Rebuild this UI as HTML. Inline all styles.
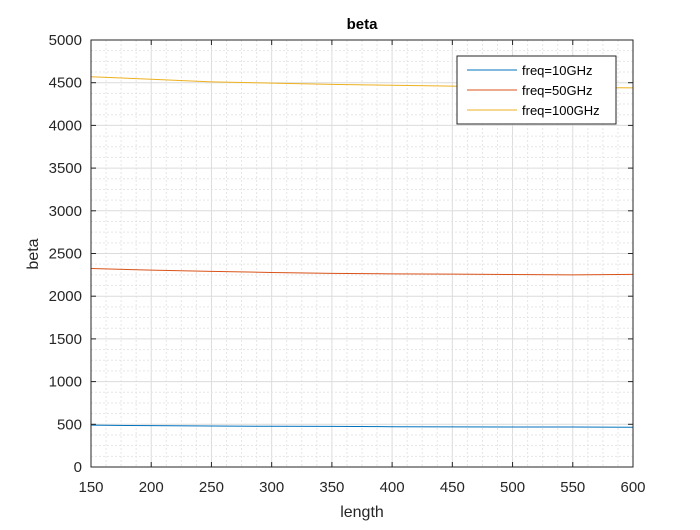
<!DOCTYPE html>
<html><head><meta charset="utf-8"><style>
body{margin:0;background:#fff;}
svg text{font-family:"Liberation Sans",sans-serif;}
</style></head><body>
<svg width="700" height="525" xmlns="http://www.w3.org/2000/svg">
<rect width="700" height="525" fill="#fff"/>
<g id="grid"></g>
<g id="series"></g>
<g id="axes"></g>
<text x="362" y="29" text-anchor="middle" font-size="15" font-weight="bold" fill="#000">beta</text>
<text x="362" y="517" text-anchor="middle" font-size="16" fill="#262626">length</text>
<text x="38" y="254" text-anchor="middle" font-size="16" fill="#262626" transform="rotate(-90 38 254)">beta</text>
<g>
<rect x="457" y="56" width="159" height="68" fill="#fff" stroke="#262626" stroke-width="1"/>
<line x1="467" y1="70" x2="517" y2="70" stroke="#0072BD"/>
<text x="522" y="75" font-size="13" fill="#000">freq=10GHz</text>
<line x1="467" y1="90" x2="517" y2="90" stroke="#D95319"/>
<text x="522" y="95" font-size="13" fill="#000">freq=50GHz</text>
<line x1="467" y1="110" x2="517" y2="110" stroke="#EDB120"/>
<text x="522" y="115" font-size="13" fill="#000">freq=100GHz</text>
</g>
</svg>
<script>
const xVals=[150,200,250,300,350,400,450,500,550,600];
const s10=[490,484,480,477,475,472,470,469,468,466];
const s50=[2325,2305,2290,2278,2268,2262,2258,2254,2250,2255];
const s100=[4570,4540,4510,4495,4480,4470,4460,4452,4445,4440];
const xTicks=[150,200,250,300,350,400,450,500,550,600];
const yTicks=[0,500,1000,1500,2000,2500,3000,3500,4000,4500,5000];
const L=91,R=633,T=40,B=467;
const sx=v=>L+(v-150)/450*(R-L);
const sy=v=>B-v/5000*(B-T);
const NS="http://www.w3.org/2000/svg";
function mk(p,t,a){const e=document.createElementNS(NS,t);for(const k in a)e.setAttribute(k,a[k]);p.appendChild(e);return e;}
const grid=document.getElementById('grid');
for(let v=150;v<=600;v+=12.5){const maj=(v-150)%50===0;const l=mk(grid,'line',{x1:sx(v),x2:sx(v),y1:T,y2:B,stroke:maj?'#dcdcdc':'#e6e6e6','stroke-dasharray':maj?'':'2,2'});

}
for(let v=0;v<=5000;v+=125){const maj=v%500===0;const l=mk(grid,'line',{x1:L,x2:R,y1:sy(v),y2:sy(v),stroke:maj?'#dcdcdc':'#e6e6e6','stroke-dasharray':maj?'':'2,2'});

}
const ser=document.getElementById('series');
[[s10,'#0072BD','series-10ghz'],[s50,'#D95319','series-50ghz'],[s100,'#EDB120','series-100ghz']].forEach(([d,c,n])=>{
const p=mk(ser,'polyline',{points:d.map((v,i)=>sx(xVals[i])+','+sy(v)).join(' '),fill:'none',stroke:c,'stroke-width':1});

});
const ax=document.getElementById('axes');
const box=mk(ax,'rect',{x:L,y:T,width:R-L,height:B-T,fill:'none',stroke:'#262626','stroke-width':1});


xTicks.forEach(v=>{mk(ax,'line',{x1:sx(v),x2:sx(v),y1:B,y2:B-5,stroke:'#262626'});mk(ax,'line',{x1:sx(v),x2:sx(v),y1:T,y2:T+5,stroke:'#262626'});
const t=mk(ax,'text',{x:sx(v),y:B+25,'text-anchor':'middle','font-size':15,fill:'#262626'});t.textContent=v;

});
yTicks.forEach(v=>{mk(ax,'line',{x1:L,x2:L+5,y1:sy(v),y2:sy(v),stroke:'#262626'});mk(ax,'line',{x1:R,x2:R-5,y1:sy(v),y2:sy(v),stroke:'#262626'});
const t=mk(ax,'text',{x:L-9,y:sy(v)+5,'text-anchor':'end','font-size':15,fill:'#262626'});t.textContent=v;

});
</script>
</body></html>
